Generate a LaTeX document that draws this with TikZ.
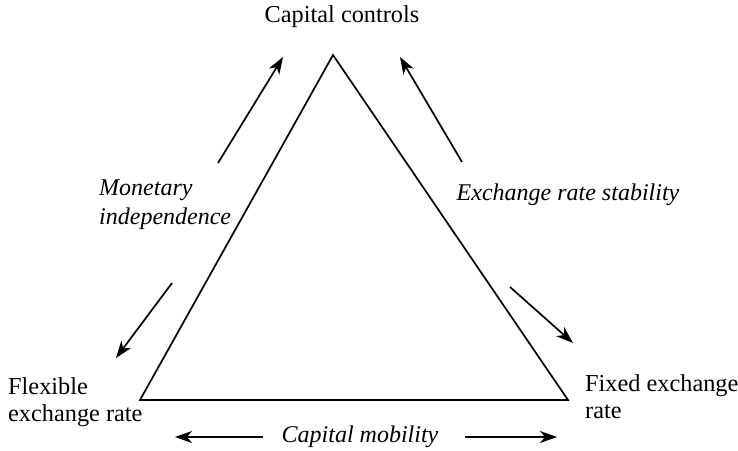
\documentclass[tikz,border=0pt]{standalone}
\usepackage{fontspec}
\setmainfont{Liberation Serif}
\usetikzlibrary{arrows.meta}
\begin{document}
\begin{tikzpicture}[x=1pt,y=-1pt,
  edge/.style={line width=1.7pt, line join=miter},
  arr/.style={line width=1.7pt, -{Stealth[length=17pt,width=12pt,inset=5pt]}},
  lbl/.style={font=\fontsize{24.3}{27}\selectfont, inner sep=0pt},
  ilbl/.style={font=\fontsize{24}{29}\selectfont\itshape, inner sep=0pt}]
\useasboundingbox (0,0) rectangle (738,450);
% triangle corners
\coordinate (top) at (333,55);
\coordinate (bl) at (140,400);
\coordinate (br) at (568,400);
\draw[edge] (top) -- (bl) -- (br) -- cycle;
% labels
\node[lbl] (cc) at (342,17) {Capital controls};
\node[lbl, anchor=west, align=left] (flex) at (8,402) {Flexible\\exchange rate};
\node[lbl, anchor=west, align=left] (fix) at (585,397) {Fixed exchange\\rate};
\node[ilbl, anchor=west, align=left] (mi) at (99,205) {Monetary\\independence};
\node[ilbl] (ers) at (568,195) {Exchange rate stability};
\node[ilbl] (cm) at (360,437) {Capital mobility};
% arrow end points
\coordinate (a1s) at (218,163); \coordinate (a1e) at (283,57);
\coordinate (a2s) at (172,283); \coordinate (a2e) at (116,358);
\coordinate (a3s) at (462,162); \coordinate (a3e) at (400,57);
\coordinate (a4s) at (510,287); \coordinate (a4e) at (573,343);
\coordinate (a5s) at (263,437); \coordinate (a5e) at (175,437);
\coordinate (a6s) at (465,437); \coordinate (a6e) at (557,437);
\draw[arr] (a1s) -- (a1e);
\draw[arr] (a2s) -- (a2e);
\draw[arr] (a3s) -- (a3e);
\draw[arr] (a4s) -- (a4e);
\draw[arr] (a5s) -- (a5e);
\draw[arr] (a6s) -- (a6e);
\end{tikzpicture}
\end{document}
